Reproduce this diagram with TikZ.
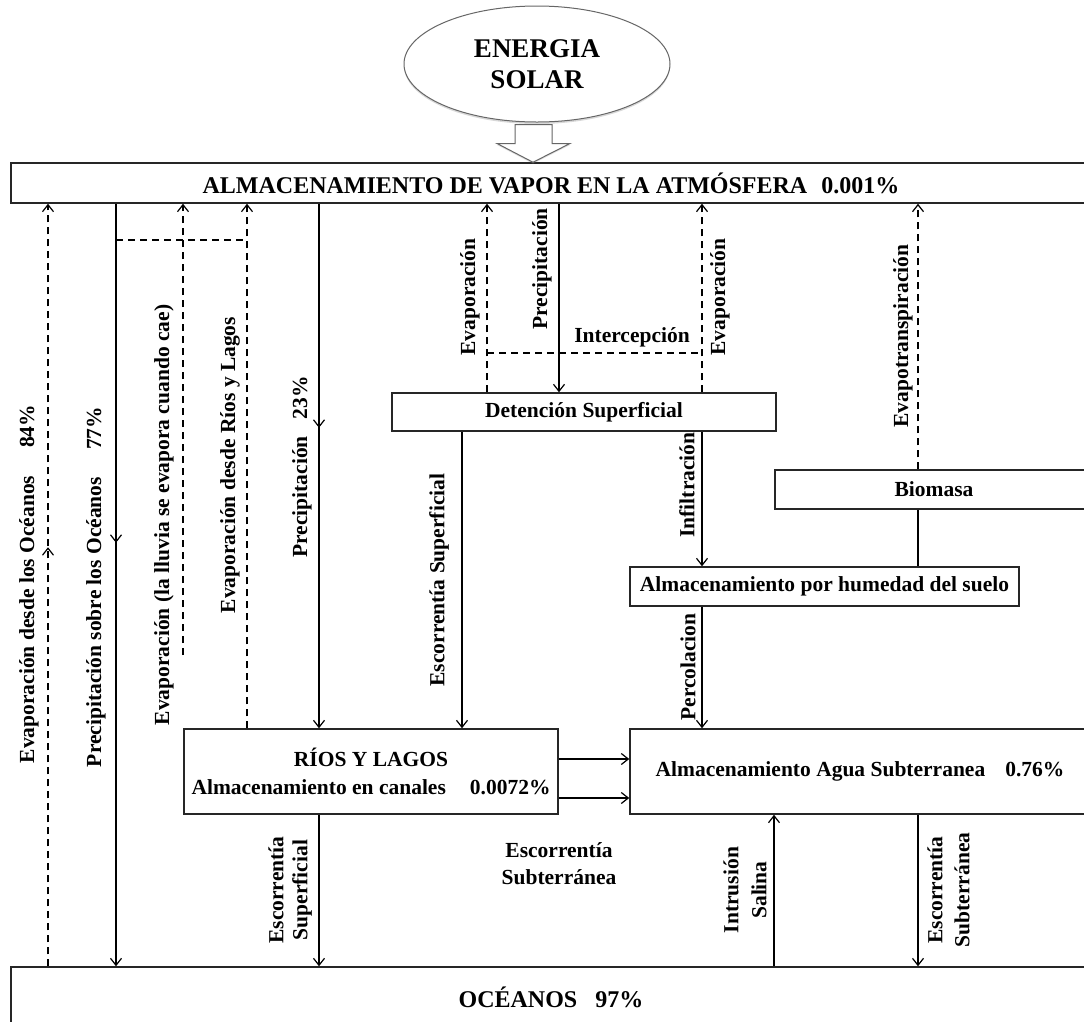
\documentclass[tikz,border=0pt]{standalone}
\usepackage{fontspec}
\setmainfont{Liberation Serif}
\usetikzlibrary{arrows.meta,shapes.geometric,decorations.markings,shadows,calc}
\newcommand\labfont{\bfseries\fontsize{21.5}{26}\selectfont}
\newcommand\bigfont{\bfseries\fontsize{24}{28}\selectfont}
\newcommand\sunfont{\bfseries\fontsize{27}{31}\selectfont}
\begin{document}
\begin{tikzpicture}[x=1pt,y=-1pt,
  box/.style={draw=black!85, line width=1.5pt, fill=white, inner sep=0pt, font=\labfont},
  con/.style={line width=1.2pt, -{Straight Barb[length=7pt,width=11pt]}},
  dcon/.style={con, dash pattern=on 7pt off 5pt},
  dline/.style={line width=1.2pt, dash pattern=on 7pt off 5pt},
  plain/.style={line width=1.2pt},
  lbl/.style={font=\labfont, inner sep=0pt},
  vlbl/.style={lbl, rotate=90},
  midarrow/.style={postaction={decorate}, decoration={markings, mark=at position #1 with {\arrow{Straight Barb[length=7pt,width=11pt]}}}}
]
\useasboundingbox (0,0) rectangle (1084,1021);
\clip (0,0) rectangle (1084,1021);
\fill[white] (0,0) rectangle (1084,1021);

% sun
\node[ellipse, draw=black!60, line width=1pt, fill=white, minimum width=266pt, minimum height=116pt,
      align=center, font=\sunfont, inner sep=0pt,
      drop shadow={opacity=0.3, shadow xshift=0pt, shadow yshift=-2pt}] (sun) at (537,64) {ENERGIA\\SOLAR};

% boxes
\node[box, minimum width=1080pt, minimum height=40pt, font=\bigfont] (atm) at (551,183)
  {ALMACENAMIENTO DE VAPOR EN LA ATMÓSFERA\hspace{14pt}0.001\%};
\node[box, minimum width=1080pt, minimum height=60pt, font=\bigfont] (ocean) at (551,997)
  {OCÉANOS\hspace{18pt}97\%};
\node[box, minimum width=384pt, minimum height=38pt] (det) at (584,412) {Detención Superficial};
\node[box, minimum width=318pt, minimum height=39pt] (bio) at (934,489.5) {Biomasa};
\node[box, minimum width=389pt, minimum height=39pt] (soil) at (824.5,586.5) {Almacenamiento por humedad del suelo};
\node[box, minimum width=460pt, minimum height=85pt] (gw) at (860,771.5)
  {Almacenamiento Agua Subterranea\hspace{20pt}0.76\%};
\node[box, minimum width=374pt, minimum height=85pt, align=center, font=\bfseries\fontsize{21.5}{28}\selectfont] (rios) at (371,771.5)
  {RÍOS Y LAGOS\\Almacenamiento en canales\hspace{24pt}0.0072\%};

% block arrow from the sun
\draw[draw=black!60, line width=1pt, fill=white, drop shadow={opacity=0.25, shadow xshift=0pt, shadow yshift=-1.5pt}]
  ($(sun.south)+(-22,2)$) -- ($(sun.south)+(15,2)$) -- ($(sun.south)+(15,21)$) -- ($(sun.south)+(33,21)$)
  -- (atm.north -| 533,0) -- ($(sun.south)+(-40,21)$) -- ($(sun.south)+(-22,21)$) -- cycle;

% column coordinates
\coordinate (c48) at (48,0);
\coordinate (c116) at (116,0);
\coordinate (c183) at (183,0);
\coordinate (c247) at (247,0);
\coordinate (c319) at (319,0);
\coordinate (c462) at (462,0);
\coordinate (c487) at (487,0);
\coordinate (c559) at (559,0);
\coordinate (c702) at (702,0);
\coordinate (c774) at (774,0);
\coordinate (c918) at (918,0);
\coordinate (e183) at (183,655);
\coordinate (d1) at (116,240);
\coordinate (d2) at (247,240);
\coordinate (i1) at (487,353);
\coordinate (i2) at (702,353);
\coordinate (r1) at (0,759);
\coordinate (r2) at (0,798);

% connectors
\draw[dcon, midarrow=419pt] (ocean.north -| c48) -- (atm.south -| c48);
\draw[con, midarrow=339pt] (atm.south -| c116) -- (ocean.north -| c116);
\draw[dcon] (e183) -- (atm.south -| c183);
\draw[dline] (d1) -- (d2);
\draw[dcon] (rios.north -| c247) -- (atm.south -| c247);
\draw[con, midarrow=224pt] (atm.south -| c319) -- (rios.north -| c319);
\draw[con] (rios.south -| c319) -- (ocean.north -| c319);
\draw[dcon] (det.north -| c487) -- (atm.south -| c487);
\draw[con] (atm.south -| c559) -- (det.north -| c559);
\draw[dcon] (det.north -| c702) -- (atm.south -| c702);
\draw[dline] (i1) -- (i2);
\draw[con] (det.south -| c462) -- (rios.north -| c462);
\draw[con] (det.south -| c702) -- (soil.north -| c702);
\draw[dcon] (bio.north -| c918) -- (atm.south -| c918);
\draw[plain] (bio.south -| c918) -- (soil.north -| c918);
\draw[con] (soil.south -| c702) -- (gw.north -| c702);
\draw[con] (rios.east |- r1) -- (gw.west |- r1);
\draw[con] (rios.east |- r2) -- (gw.west |- r2);
\draw[con] (ocean.north -| c774) -- (gw.south -| c774);
\draw[con] (gw.south -| c918) -- (ocean.north -| c918);

% labels
\node[vlbl] (l1) at (29,584) {Evaporación desde los Océanos\hspace{28pt}84\%};
\node[vlbl] (l2) at (96,587) {Precipitación sobre los Océanos\hspace{27pt}77\%};
\node[vlbl] (l3) at (164,515) {Evaporación (la lluvia se evapora cuando cae)};
\node[vlbl] (l4) at (230,465) {Evaporación desde Ríos y Lagos};
\node[vlbl] (l5) at (302,467) {Precipitación\hspace{17pt}23\%};
\node[vlbl] (l6) at (470,297) {Evaporación};
\node[vlbl] (l7) at (542,269) {Precipitación};
\node[vlbl] (l8) at (720,297) {Evaporación};
\node[vlbl] (l9) at (439,580) {Escorrentía Superficial};
\node[vlbl] (l10) at (687,485) {Infiltración};
\node[vlbl] (l11) at (903,336) {Evapotranspiración};
\node[vlbl] (l12) at (688,667) {Percolacion};
\node[vlbl] (l13) at (276,890) {Escorrentía};
\node[vlbl] (l14) at (302,890) {Superficial};
\node[vlbl] (l15) at (731,890) {Intrusión};
\node[vlbl] (l16) at (759,890) {Salina};
\node[vlbl] (l17) at (935,890) {Escorrentía};
\node[vlbl] (l18) at (962,890) {Subterránea};
\node[lbl] (l19) at (632,337) {Intercepción};
\node[lbl, align=center, font=\bfseries\fontsize{21.5}{27}\selectfont] (l20) at (559,863.5) {Escorrentía\\Subterránea};
\end{tikzpicture}
\end{document}
